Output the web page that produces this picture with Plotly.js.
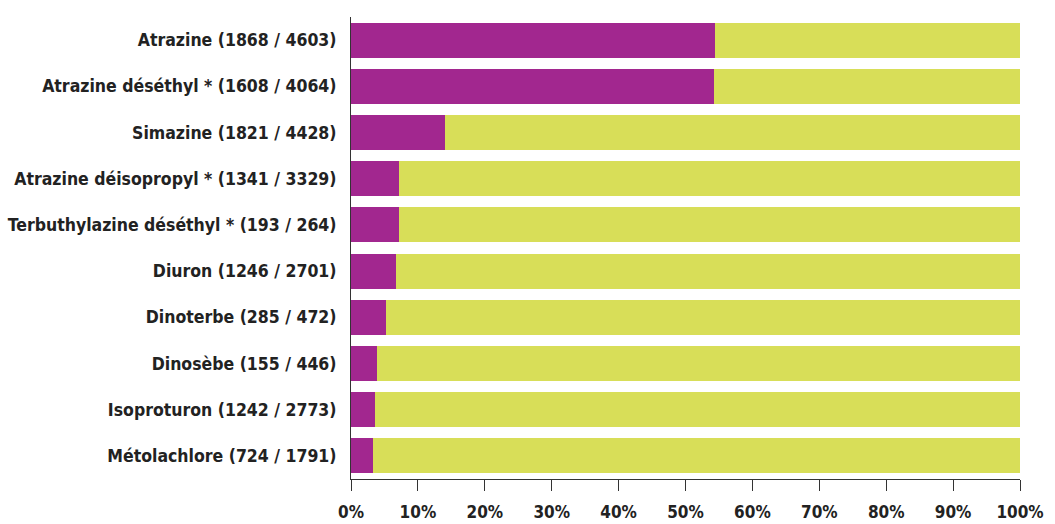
<!DOCTYPE html>
<html>
<head>
<meta charset="utf-8">
<script src="https://cdn.plot.ly/plotly-3.0.1.min.js"></script>
<style>html,body{margin:0;padding:0;background:#fff;}#chart{width:1055px;height:524px;}</style>
</head>
<body>
<div id="chart"></div>
<script>
const categories = [
  "Atrazine (1868 / 4603)",
  "Atrazine déséthyl * (1608 / 4064)",
  "Simazine (1821 / 4428)",
  "Atrazine déisopropyl * (1341 / 3329)",
  "Terbuthylazine déséthyl * (193 / 264)",
  "Diuron (1246 / 2701)",
  "Dinoterbe (285 / 472)",
  "Dinosèbe (155 / 446)",
  "Isoproturon (1242 / 2773)",
  "Métolachlore (724 / 1791)"
];
const purpleValues = [54.4, 54.2, 14.0, 7.2, 7.2, 6.7, 5.2, 3.9, 3.6, 3.3];
const yellowValues = [45.6, 45.8, 86.0, 92.8, 92.8, 93.3, 94.8, 96.1, 96.4, 96.7];
const tickValues = [0, 10, 20, 30, 40, 50, 60, 70, 80, 90, 100];
const tickLabels = ["0%", "10%", "20%", "30%", "40%", "50%", "60%", "70%", "80%", "90%", "100%"];

const fontFam = "'DejaVu Sans Condensed', 'Liberation Sans Narrow', sans-serif";

const traces = [
  {type: 'bar', orientation: 'h', y: categories, x: purpleValues,
   marker: {color: '#A2278F'}, hoverinfo: 'x+y'},
  {type: 'bar', orientation: 'h', y: categories, x: yellowValues,
   marker: {color: '#D8DE58'}, hoverinfo: 'x+y'}
];
const layout = {
  width: 1055, height: 524,
  barmode: 'stack', bargap: 0.24,
  showlegend: false,
  paper_bgcolor: '#fff', plot_bgcolor: '#fff',
  margin: {l: 351, r: 35, t: 17, b: 45, pad: 0},
  xaxis: {
    range: [0, 100], tickvals: tickValues, ticktext: tickLabels,
    showgrid: false, zeroline: false, showline: true, linecolor: '#333', linewidth: 1,
    ticks: 'outside', ticklen: 11, tickcolor: '#333', tickwidth: 1,
    ticklabelstandoff: 7,
    tickfont: {family: fontFam, size: 17, color: '#222', weight: 'bold'},
    fixedrange: true
  },
  yaxis: {
    autorange: 'reversed', type: 'category',
    showgrid: false, zeroline: false, showline: true, linecolor: '#333', linewidth: 1,
    ticks: '', ticklabelstandoff: 10,
    tickfont: {family: fontFam, size: 17.5, color: '#222', weight: 'bold'},
    fixedrange: true
  }
};
Plotly.newPlot('chart', traces, layout, {displayModeBar: false, staticPlot: true});
</script>
</body>
</html>
